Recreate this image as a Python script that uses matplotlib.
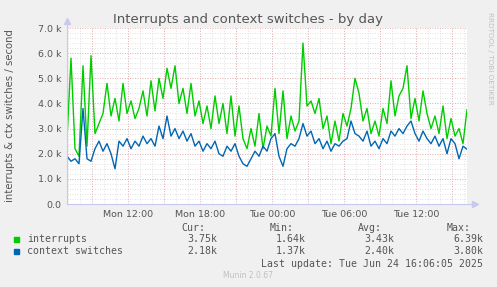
import numpy as np
import matplotlib
matplotlib.use('Agg')
import matplotlib.pyplot as plt

# samples every 20 minutes, starting Mon 06:55 (hours since Mon 00:00)
start_hour = 6.917
step_hour = 1.0 / 3.0

interrupts = [
    2.6, 5.8, 2.2, 1.9, 5.5, 2.3, 5.9, 2.8, 3.2, 3.6,
    4.8, 3.5, 4.2, 3.3, 4.8, 3.6, 4.1, 3.4, 3.8, 4.5,
    3.5, 4.9, 3.7, 5.0, 4.2, 5.4, 4.6, 5.5, 4.0, 4.6,
    3.6, 4.8, 3.5, 4.1, 3.2, 3.9, 3.0, 4.3, 3.2, 4.0,
    2.8, 4.3, 2.7, 3.9, 2.6, 2.2, 3.0, 2.3, 3.6, 2.2,
    3.1, 2.7, 4.6, 2.8, 4.5, 2.6, 3.5, 2.9, 3.3, 6.4,
    3.9, 4.1, 3.6, 4.2, 3.0, 3.5, 2.4, 3.3, 2.5, 3.6,
    3.1, 3.8, 5.0, 4.4, 3.3, 3.8, 2.8, 3.3, 2.7, 3.8,
    3.2, 4.9, 3.5, 4.3, 4.6, 5.5, 3.4, 4.2, 3.3, 4.5,
    3.6, 3.0, 3.5, 2.8, 3.9, 2.6, 3.4, 2.7, 3.0, 2.4,
    3.75,
]
ctx_switches = [
    1.9, 1.7, 1.8, 1.6, 3.8, 1.8, 1.7, 2.2, 2.5, 2.1,
    2.4, 2.0, 1.4, 2.5, 2.3, 2.6, 2.2, 2.5, 2.3, 2.7,
    2.4, 2.6, 2.3, 3.1, 2.6, 3.5, 2.7, 3.0, 2.6, 2.9,
    2.5, 2.8, 2.3, 2.5, 2.1, 2.4, 2.2, 2.5, 2.0, 1.9,
    2.3, 2.1, 2.4, 1.9, 1.6, 1.5, 1.8, 2.1, 1.9, 2.3,
    2.1, 2.6, 2.8, 1.9, 1.5, 2.2, 2.4, 2.3, 2.6, 3.2,
    2.7, 2.9, 2.4, 2.6, 2.2, 2.5, 2.1, 2.4, 2.3, 2.5,
    2.6, 3.3, 2.8, 2.7, 2.5, 2.9, 2.3, 2.5, 2.2, 2.6,
    2.4, 2.9, 2.7, 3.0, 2.8, 3.1, 3.3, 2.8, 2.5, 2.9,
    2.6, 2.4, 2.7, 2.3, 2.6, 2.0, 2.6, 2.4, 1.8, 2.3,
    2.18,
]
series_names = ['interrupts', 'context switches']
series_colors = ['#00cc00', '#0066b3']
stats_cur = ['3.75k', '2.18k']
stats_min = ['1.64k', '1.37k']
stats_avg = ['3.43k', '2.40k']
stats_max = ['6.39k', '3.80k']
label_hours = [12, 18, 24, 30, 36]
label_texts = ['Mon 12:00', 'Mon 18:00', 'Tue 00:00', 'Tue 06:00', 'Tue 12:00']
y_ticks = [0, 1000, 2000, 3000, 4000, 5000, 6000, 7000]
y_labels = ['0.0', '1.0 k', '2.0 k', '3.0 k', '4.0 k', '5.0 k', '6.0 k', '7.0 k']

W, H = 497, 287
fig = plt.figure(figsize=(W / 100, H / 100), dpi=100)
fig.patch.set_facecolor('#f0f0f0')

px_l, px_r, px_t, px_b = 67, 467, 28, 204
ax = fig.add_axes([px_l / W, 1 - px_b / H, (px_r - px_l) / W, (px_b - px_t) / H])
ax.set_facecolor('white')

t = start_hour + np.arange(len(interrupts)) * step_hour
end_hour = start_hour + 400 / 12.0

# grid
dot = (0, (1, 2))
for h in np.arange(7, 41, 1):
    ax.axvline(h, color='#d8d8d8', lw=0.6, ls=dot, zorder=0)
for h in np.arange(9, 41, 3):
    ax.axvline(h, color='#e8a0a0', lw=0.6, ls=dot, zorder=0)
for v in np.arange(200, 7000, 200):
    ax.axhline(v, color='#d8d8d8', lw=0.6, ls=dot, zorder=0)
for v in y_ticks[1:]:
    ax.axhline(v, color='#e8a0a0', lw=0.6, ls=dot, zorder=0)

ax.plot(t, np.array(interrupts) * 1000, color=series_colors[0], lw=1.0, zorder=3)
ax.plot(t, np.array(ctx_switches) * 1000, color=series_colors[1], lw=1.0, zorder=4)

ax.set_xlim(start_hour, end_hour)
ax.set_ylim(0, 7000)
for s in ax.spines.values():
    s.set_visible(False)

ax.set_xticks(label_hours)
ax.set_xticklabels(label_texts)
ax.set_yticks(y_ticks)
ax.set_yticklabels(y_labels)
ax.tick_params(axis='both', length=0, colors='#555555', labelsize=6.8)
ax.tick_params(axis='x', pad=4)
ax.tick_params(axis='y', pad=4)

# axis lines with arrows
axc = '#c8c8f0'
ax.plot([0, 0], [0, 1.03], transform=ax.transAxes, color=axc, lw=0.8, clip_on=False, zorder=5)
ax.plot([0, 1.015], [0, 0], transform=ax.transAxes, color=axc, lw=0.8, clip_on=False, zorder=5)
ax.plot([0], [1.04], transform=ax.transAxes, marker='^', ms=4, color=axc, clip_on=False, zorder=5)
ax.plot([1.02], [0], transform=ax.transAxes, marker='>', ms=4, color=axc, clip_on=False, zorder=5)

fig.text(248 / W, 1 - 19 / H, 'Interrupts and context switches - by day',
         ha='center', va='center', fontsize=9.5, color='#555555')
fig.text(10 / W, 1 - 116 / H, 'interrupts & ctx switches / second', rotation=90,
         ha='center', va='center', fontsize=7.3, color='#555555')
fig.text(490 / W, 1 - 58 / H, 'RRDTOOL / TOBI OETIKER', rotation=270,
         ha='center', va='center', fontsize=5.2, color='#c0c0c0')

mono = dict(family='DejaVu Sans Mono', fontsize=7.1, color='#555555', va='center')
col_right = [217, 306, 394, 483]
heads = ['Cur:', 'Min:', 'Avg:', 'Max:']
for xr, hd in zip(col_right, heads):
    fig.text((xr - 12) / W, 1 - 228 / H, hd, ha='right', **mono)

rows_y = [239, 251]
for i, name in enumerate(series_names):
    y = 1 - rows_y[i] / H
    fig.patches.append(plt.Rectangle((14 / W, y - 2.5 / H), 5 / W, 5 / H,
                                     transform=fig.transFigure, color=series_colors[i]))
    fig.text(27 / W, y, name, ha='left', **mono)
    for xr, val in zip(col_right, [stats_cur[i], stats_min[i], stats_avg[i], stats_max[i]]):
        fig.text(xr / W, y, val, ha='right', **mono)

fig.text(483 / W, 1 - 264 / H, 'Last update: Tue Jun 24 16:06:05 2025', ha='right', **mono)
fig.text(248 / W, 1 - 276 / H, 'Munin 2.0.67', ha='center', va='center',
         fontsize=5.5, color='#c0c0c0')

fig.savefig('out.png', dpi=100, facecolor=fig.get_facecolor())
